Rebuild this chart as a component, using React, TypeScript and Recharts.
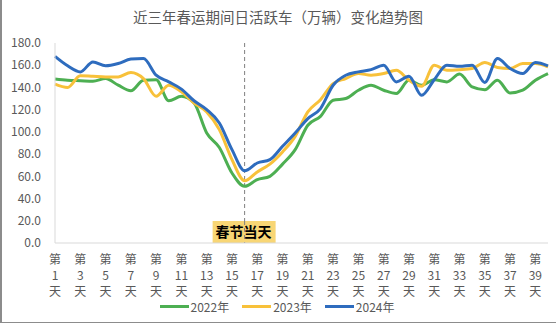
import { LineChart, Line, XAxis, YAxis, Legend, ReferenceLine } from 'recharts';

// 春运 40 天
const dayNumbers = [
  1, 2, 3, 4, 5, 6, 7, 8, 9, 10, 11, 12, 13, 14, 15, 16, 17, 18, 19, 20,
  21, 22, 23, 24, 25, 26, 27, 28, 29, 30, 31, 32, 33, 34, 35, 36, 37, 38, 39, 40,
];
const categories = dayNumbers.map((d) => `第${d}天`);

// 日活跃车（万辆）
const y2022 = [
  147.5, 146.5, 146, 145.5, 148, 142, 137, 146.5, 147, 128,
  132, 126, 99, 86, 63, 51, 57, 60, 71, 84,
  106, 114, 128.5, 130, 137.5, 142, 137.5, 134.5, 146.5, 142,
  147, 145, 152, 140.5, 138, 146.5, 135, 137.5, 146.5, 152.5,
];
const y2023 = [
  143, 140, 150.5, 150, 149.5, 149.5, 153.5, 148, 132, 142,
  136, 126, 118, 102, 75, 56, 64, 71, 82, 96,
  118, 129, 143.5, 148, 152.5, 151, 152.5, 155.5, 146.5, 141,
  160, 155.5, 156, 157, 162.5, 158, 157, 161.5, 161.5, 158.5,
];
const y2024 = [
  168, 159.5, 154, 163, 159.5, 161.5, 165.5, 166, 151, 145,
  138.5, 128, 120, 108, 84, 65, 72, 75, 87, 99,
  112, 121, 142, 151, 154, 156, 160, 145, 150, 133,
  147, 160, 159, 160, 144.5, 166, 157, 152.5, 162.5, 159.5,
];

const yTicks = [0, 20, 40, 60, 80, 100, 120, 140, 160, 180];
const springDay = '第16天';

const chartData = categories.map((day, i) => ({
  day,
  '2022年': y2022[i],
  '2023年': y2023[i],
  '2024年': y2024[i],
}));

const FONT = '"Noto Sans CJK SC", "Noto Sans", sans-serif';
const TEXT = '#595959';

function DayTick({ x, y, payload }: any) {
  const num = String(payload.value).replace('第', '').replace('天', '');
  return (
    <text x={x} y={y} textAnchor="middle" fill={TEXT} fontSize={12} fontFamily={FONT}>
      <tspan x={x} dy={13}>第</tspan>
      <tspan x={x} dy={16}>{num}</tspan>
      <tspan x={x} dy={16}>天</tspan>
    </text>
  );
}

function SpringLabel({ viewBox }: any) {
  const { x, y, height } = viewBox;
  const bottom = y + height;
  return (
    <g>
      <rect x={x - 32} y={bottom - 22} width={63} height={22} fill="#F8D675" />
      <text
        x={x - 1}
        y={bottom - 6}
        textAnchor="middle"
        fontSize={14}
        fontWeight="bold"
        fill="#000"
        fontFamily={FONT}
      >
        春节当天
      </text>
      <line x1={x} x2={x} y1={bottom - 22} y2={bottom} stroke="#7f7f7f" strokeDasharray="4 3" />
    </g>
  );
}

function LegendContent({ payload }: any) {
  return (
    <div style={{ display: 'flex', justifyContent: 'center', gap: 13, fontSize: 12, color: TEXT, fontFamily: FONT, height: 21, alignItems: 'center', paddingLeft: 6 }}>
      {(payload || []).map((p: any) => (
        <span key={p.value} style={{ display: 'flex', alignItems: 'center' }}>
          <span style={{ display: 'inline-block', width: 29, height: 3, background: p.color, marginRight: 2 }} />
          {p.value}
        </span>
      ))}
    </div>
  );
}

export default function App() {
  return (
    <div style={{ position: 'relative', width: 556, height: 324, background: '#fff', fontFamily: FONT }}>
      <style>{'body{margin:0}'}</style>
      <div
        style={{
          position: 'absolute',
          top: 6,
          left: 0,
          width: 556,
          textAlign: 'center',
          fontSize: 14.5,
          color: TEXT,
        }}
      >
        近三年春运期间日活跃车（万辆）变化趋势图
      </div>
      <LineChart width={556} height={324} data={chartData} margin={{ top: 43, right: 8, left: 0, bottom: 5 }}>
        <XAxis
          dataKey="day"
          interval={1}
          height={55}
          tick={<DayTick />}
          tickLine={false}
          axisLine={{ stroke: '#d9d9d9' }}
        />
        <XAxis xAxisId="top" orientation="top" dataKey="day" height={0} tick={false} tickLine={false} axisLine={{ stroke: '#d9d9d9' }} />
        <YAxis
          domain={[0, 180]}
          ticks={yTicks}
          width={55}
          tickFormatter={(v: number) => v.toFixed(1)}
          tick={{ fill: TEXT, fontSize: 12 }}
          tickLine={false}
          tickMargin={8}
          axisLine={{ stroke: '#d9d9d9' }}
        />
        <YAxis yAxisId="right" orientation="right" width={0} tick={false} tickLine={false} axisLine={{ stroke: '#d9d9d9' }} />
        <ReferenceLine x={springDay} stroke="#7f7f7f" strokeDasharray="4 3" label={<SpringLabel />} />
        <Legend verticalAlign="bottom" content={<LegendContent />} wrapperStyle={{ bottom: 7 }} />
        <Line type="monotone" dataKey="2022年" stroke="#4DAF52" strokeWidth={3} dot={false} isAnimationActive={false} />
        <Line type="monotone" dataKey="2023年" stroke="#F8C13A" strokeWidth={3} dot={false} isAnimationActive={false} />
        <Line type="monotone" dataKey="2024年" stroke="#2E6CBE" strokeWidth={3} dot={false} isAnimationActive={false} />
      </LineChart>
      <div
        style={{
          position: 'absolute',
          left: 0,
          top: 0,
          width: 554,
          height: 322,
          borderLeft: '2px solid #8c8c8c',
          borderRight: '1px solid #8c8c8c',
          borderBottom: '1px solid #8c8c8c',
          pointerEvents: 'none',
        }}
      />
    </div>
  );
}
